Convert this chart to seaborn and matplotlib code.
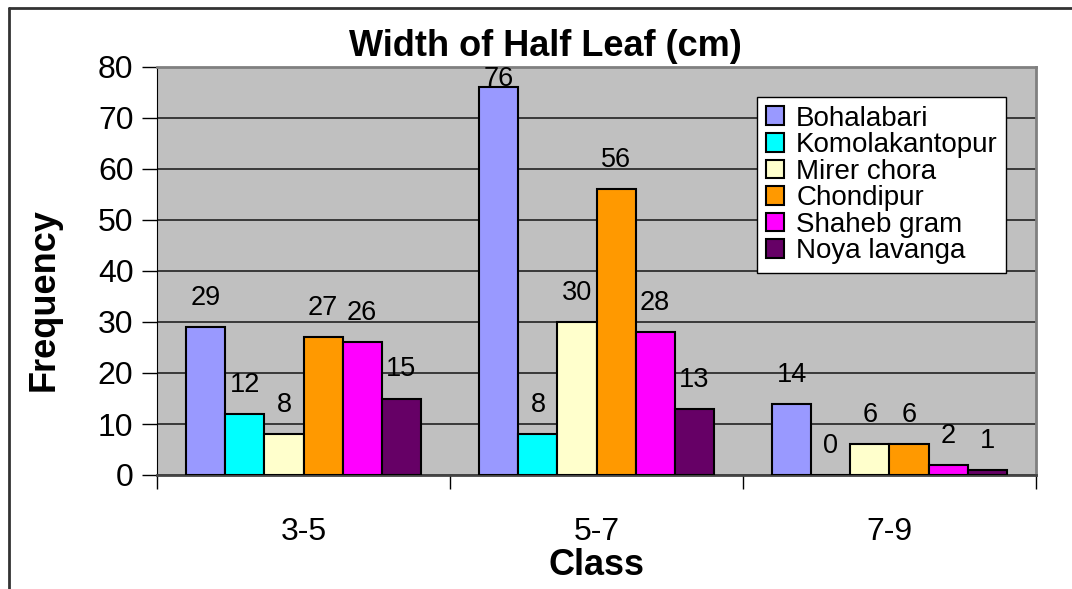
import pandas as pd
import numpy as np
import matplotlib
matplotlib.use('Agg')
import matplotlib.pyplot as plt
from matplotlib.lines import Line2D
import seaborn as sns

classes = ['3-5', '5-7', '7-9']
villages = ['Bohalabari', 'Komolakantopur', 'Mirer chora', 'Chondipur', 'Shaheb gram', 'Noya lavanga']
bohalabari = [29, 76, 14]
komolakantopur = [12, 8, 0]
mirer_chora = [8, 30, 6]
chondipur = [27, 56, 6]
shaheb_gram = [26, 28, 2]
noya_lavanga = [15, 13, 1]
colors = ['#9999FF', '#00FFFF', '#FFFFCC', '#FF9900', '#FF00FF', '#660066']

series = [bohalabari, komolakantopur, mirer_chora, chondipur, shaheb_gram, noya_lavanga]
rows = []
for name, vals in zip(villages, series):
    for c, v in zip(classes, vals):
        rows.append({'Class': c, 'Village': name, 'Frequency': v})
df = pd.DataFrame(rows)

sns.set_style('white')
plt.rcParams['font.family'] = ['Liberation Sans', 'DejaVu Sans']
plt.rcParams['text.color'] = 'black'
plt.rcParams['xtick.color'] = 'black'
plt.rcParams['ytick.color'] = 'black'
plt.rcParams['axes.labelcolor'] = 'black'

fig = plt.figure(figsize=(10.72, 5.89), dpi=100)
ax = fig.add_axes([157/1072, 1 - 475/589, (1036-157)/1072, (475-67)/589])
ax.set_facecolor('#C0C0C0')

sns.barplot(data=df, x='Class', y='Frequency', hue='Village', hue_order=villages,
            order=classes, palette=colors, edgecolor='black', linewidth=1.5,
            width=0.8, gap=0, saturation=1, ax=ax, zorder=3)

# value labels above bars (Excel style)
for cont, vals in zip(ax.containers, series):
    for bar, v in zip(cont, vals):
        x = bar.get_x() + bar.get_width() / 2
        y = min(v + 5.7, 77.6)
        ax.text(x, y, str(v), ha='center', va='center', fontsize=19.5, zorder=5)

ax.set_ylim(0, 80)
ax.set_xlim(-0.5, 2.5)
ax.set_yticks(np.arange(0, 81, 10))
ax.yaxis.grid(True, color='#222222', linewidth=1.2, zorder=0)
ax.set_axisbelow(True)
ax.tick_params(axis='y', labelsize=23, length=11, width=1, direction='out', left=True, pad=6)
ax.set_xticks([0, 1, 2])
ax.set_xticklabels(classes)
ax.tick_params(axis='x', which='major', labelsize=23, length=0, pad=30)
ax.set_xticks([-0.5, 0.5, 1.5, 2.5], minor=True)
ax.tick_params(axis='x', which='minor', length=10, width=1, direction='out', bottom=True)

for side in ['top', 'right']:
    ax.spines[side].set_color('#808080')
    ax.spines[side].set_linewidth(2)
ax.spines['left'].set_color('black')
ax.spines['bottom'].set_color('#444444')
ax.spines['bottom'].set_linewidth(2)

fig.text(545/1072, 1 - 46/589, 'Width of Half Leaf (cm)', fontsize=26, fontweight='bold',
         ha='center', va='center')
ax.set_xlabel('Class', fontsize=26, fontweight='bold', labelpad=1)
ax.set_ylabel('Frequency', fontsize=26, fontweight='bold')
ax.yaxis.set_label_coords((62 - 157) / 879, (475 - 300) / 408)

leg = ax.legend(loc='upper left', bbox_to_anchor=(0.683, 0.926), fontsize=20,
                frameon=True, fancybox=False, edgecolor='black', facecolor='white',
                framealpha=1, handlelength=0.65, handleheight=0.65, handletextpad=0.45,
                labelspacing=0.02, borderpad=0.3, borderaxespad=0)
leg.get_frame().set_linewidth(1)
for h in leg.legend_handles:
    h.set_edgecolor('black')
    h.set_linewidth(1.5)
leg.set_zorder(10)

# outer chart border
fig.add_artist(Line2D([9/1072, 9/1072], [0, 1 - 8/589], color='#333333', lw=2))
fig.add_artist(Line2D([9/1072, 1], [1 - 8/589, 1 - 8/589], color='#333333', lw=2))

fig.savefig('out.png', dpi=100)
